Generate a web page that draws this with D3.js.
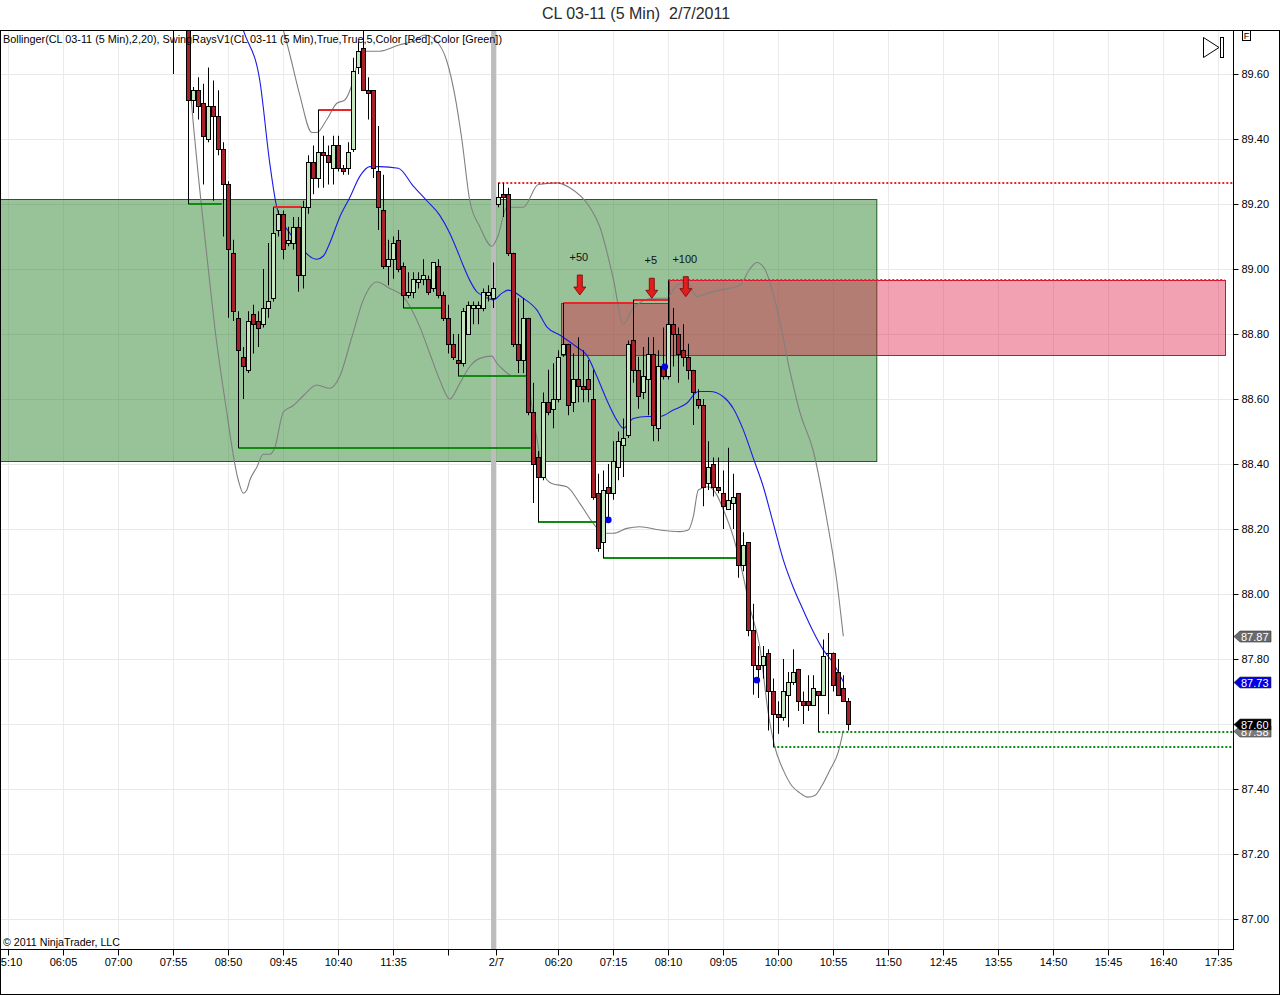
<!DOCTYPE html>
<html>
<head>
<meta charset="utf-8">
<script src="https://cdn.jsdelivr.net/npm/d3@7"></script>
<style>
  html, body { margin: 0; padding: 0; background: #fff; }
  svg { display: block; font-family: "Liberation Sans", Arial, sans-serif; }
</style>
</head>
<body>
<script>
// ---------------- DATA ----------------
// bar index 0 = 07:55 on the first session (5-minute bars)
const barOpen  = [89.78,89.80,89.82,89.80,89.52,89.55,89.51,89.40,89.50,89.47,89.37,89.26,89.05,88.85,88.73,88.69,88.86,88.84,88.83,88.88,
                  88.91,89.12,89.17,89.08,89.08,89.13,88.98,89.19,89.33,89.28,89.36,89.35,89.31,89.38,89.31,89.31,89.37,89.62,89.68,89.55,
                  89.55,89.30,89.18,89.01,89.03,89.09,89.01,88.92,88.93,88.96,88.97,88.97,88.94,89.01,88.92,88.85,88.77,88.72,88.71,88.80,
                  88.88,88.88,88.88,88.92,88.91,89.20,89.23,89.23,89.05,88.77,88.72,88.85,88.56,88.42,88.36,88.59,88.57,88.60,88.74,88.77,
                  88.59,88.66,88.64,88.66,88.60,88.31,88.16,88.33,88.31,88.39,88.46,88.49,88.78,88.69,88.62,88.66,88.74,88.51,88.70,88.67,
                  88.83,88.80,88.75,88.73,88.69,88.60,88.58,88.34,88.40,88.33,88.31,88.26,88.28,88.31,88.09,88.16,87.89,87.78,87.78,87.82,
                  87.70,87.63,87.62,87.69,87.73,87.77,87.67,87.67,87.66,87.70,87.69,87.82,87.82,87.76,87.71,87.67];
const barHigh  = [89.80,89.85,89.86,89.82,89.56,89.59,89.57,89.62,89.58,89.55,89.39,89.27,89.09,88.87,88.76,88.87,88.89,88.87,89.00,89.08,
                  89.19,89.18,89.18,89.13,89.16,89.16,89.21,89.35,89.38,89.49,89.41,89.38,89.41,89.41,89.32,89.39,89.65,89.70,89.75,89.59,
                  89.55,89.44,89.29,89.09,89.10,89.12,89.02,88.99,88.99,88.99,89.03,88.98,89.02,89.03,88.93,88.89,88.80,88.80,88.88,88.90,
                  88.90,88.90,88.94,88.95,89.02,89.265,89.265,89.25,89.05,88.91,88.91,88.85,88.65,88.44,88.62,88.69,88.71,88.75,88.895,88.77,
                  88.74,88.79,88.75,88.72,88.69,88.37,88.38,88.40,88.47,88.50,88.54,88.78,88.905,88.73,88.76,88.79,88.79,88.75,88.82,88.965,
                  88.88,88.82,88.83,88.77,88.69,88.63,88.60,88.47,88.42,88.42,88.38,88.45,88.37,88.31,88.19,88.16,87.97,87.84,87.84,87.83,
                  87.74,87.67,87.80,87.76,87.83,87.77,87.70,87.75,87.75,87.70,87.86,87.88,87.82,87.80,87.75,87.68];
const barLow   = [89.60,89.76,89.77,89.20,89.48,89.46,89.26,89.39,89.21,89.35,89.10,88.85,88.84,88.45,88.60,88.68,88.74,88.76,88.82,88.85,
                  88.90,89.10,89.03,89.07,89.06,88.93,88.94,89.17,89.23,89.25,89.25,89.26,89.26,89.30,89.29,89.29,89.36,89.60,89.55,89.46,
                  89.28,89.12,89.00,88.95,88.97,88.99,88.88,88.91,88.91,88.94,88.95,88.92,88.93,88.91,88.84,88.74,88.72,88.67,88.70,88.80,
                  88.83,88.83,88.87,88.90,88.88,89.19,89.16,89.04,88.76,88.68,88.68,88.55,88.28,88.22,88.35,88.55,88.51,88.59,88.73,88.55,
                  88.56,88.59,88.59,88.59,88.29,88.13,88.11,88.23,88.29,88.35,88.36,88.48,88.65,88.57,88.60,88.55,88.47,88.47,88.66,88.66,
                  88.70,88.65,88.70,88.66,88.52,88.57,88.27,88.32,88.30,88.31,88.20,88.26,88.20,88.05,88.07,87.87,87.69,87.68,87.74,87.58,
                  87.53,87.57,87.61,87.59,87.72,87.64,87.60,87.64,87.66,87.575,87.69,87.63,87.70,87.69,87.67,87.58];
const barClose = [89.76,89.82,89.80,89.52,89.55,89.50,89.41,89.50,89.47,89.37,89.26,89.06,88.87,88.75,88.70,88.84,88.83,88.82,88.88,88.90,
                  89.11,89.17,89.06,89.09,89.13,88.98,89.19,89.33,89.28,89.36,89.35,89.33,89.38,89.31,89.30,89.36,89.61,89.67,89.55,89.54,
                  89.31,89.19,89.01,89.03,89.08,89.00,88.92,88.93,88.97,88.97,88.98,88.93,89.02,88.92,88.85,88.77,88.73,88.71,88.87,88.89,
                  88.89,88.89,88.93,88.93,88.94,89.22,89.22,89.05,88.77,88.72,88.85,88.56,88.40,88.36,88.59,88.56,88.60,88.73,88.77,88.58,
                  88.66,88.64,88.63,88.63,88.30,88.14,88.32,88.31,88.41,88.47,88.48,88.77,88.69,88.61,88.67,88.74,88.52,88.70,88.67,88.83,
                  88.80,88.74,88.73,88.69,88.62,88.58,88.33,88.39,88.33,88.32,88.27,88.29,88.30,88.09,88.15,87.89,87.78,87.77,87.81,87.70,
                  87.63,87.62,87.70,87.73,87.76,87.67,87.66,87.66,87.71,87.69,87.81,87.82,87.72,87.69,87.67,87.60];

// Bollinger (2, 20) lines: [bar index, price]
const bollUpper = [[20.9,89.78],[22,89.735],[23.3,89.66],[25.3,89.535],[27.7,89.42],[28.7,89.42],[30.7,89.46],[32.7,89.51],[34.3,89.52],
  [36,89.58],[37.3,89.66],[38.3,89.67],[41.3,89.67],[45.3,89.69],[47.9,89.70],[50.3,89.72],[52.7,89.70],[54.7,89.64],[56.3,89.535],
  [57.7,89.40],[59.3,89.21],[61.3,89.13],[63.7,89.07],[64.9,89.10],[66.7,89.19],[68,89.19],[70,89.19],[73,89.26],[76.7,89.265],
  [79.3,89.25],[83.3,89.19],[85.3,89.13],[88,88.97],[90,88.83],[92,88.88],[96,88.91],[98.7,88.91],[100.7,88.95],[102.7,88.96],
  [104.7,88.915],[106.7,88.925],[109.3,88.935],[113.3,88.95],[115.3,89.00],[116.7,89.02],[118.3,89.00],[120.3,88.905],[123.7,88.66],
  [125.3,88.56],[128,88.44],[130.7,88.23],[132.7,88.04],[134,87.87]];
const bollMiddle = [[13.3,89.77],[14,89.735],[17.3,89.58],[19.3,89.325],[20.7,89.19],[23.3,89.11],[25.3,89.07],[28.7,89.03],[30,89.04],
  [31.3,89.08],[33.3,89.16],[35.3,89.22],[37.3,89.285],[39.3,89.315],[41.3,89.315],[45,89.31],[48,89.255],[50.7,89.21],[53.3,89.165],
  [55.3,89.11],[56.7,89.06],[58,89.01],[59.3,88.965],[60.7,88.93],[62,88.917],[64,88.905],[65.7,88.925],[67,88.935],[70,88.91],
  [72.7,88.874],[74.7,88.822],[77.3,88.797],[80.7,88.76],[82.7,88.735],[84.7,88.67],[86.7,88.597],[88.7,88.535],[90,88.51],[92,88.54],
  [94.7,88.546],[97.3,88.546],[100,88.566],[102.7,88.587],[105,88.623],[107.3,88.623],[110,88.607],[112,88.571],[114,88.505],
  [116,88.418],[118,88.33],[120,88.217],[122,88.105],[124,88.02],[126,87.95],[128,87.884],[130,87.828],[132,87.787],[134,87.73]];
const bollLower = [[2.7,89.705],[3.7,89.50],[4.7,89.335],[7,89.00],[8.3,88.82],[10.3,88.60],[13,88.35],[14,88.31],[14.7,88.32],
  [15.3,88.35],[16.7,88.39],[18,88.43],[19.3,88.43],[20.3,88.45],[22,88.56],[24,88.58],[26,88.61],[28.7,88.643],[31.3,88.633],
  [33.3,88.67],[35.7,88.79],[38,88.905],[40.7,88.96],[43.3,88.94],[46,88.915],[49.3,88.822],[51.3,88.74],[53.3,88.658],[55.3,88.60],
  [57.3,88.648],[59.3,88.70],[61.3,88.725],[63.7,88.732],[64.7,88.71],[66,88.69],[68,88.67],[70.7,88.67],[72,88.545],[73,88.453],
  [74,88.371],[75.7,88.34],[78.7,88.33],[81.3,88.279],[84,88.217],[86,88.187],[88,88.187],[90.7,88.202],[93.3,88.207],[97.3,88.197],
  [101.3,88.192],[103,88.197],[104,88.238],[105,88.32],[107,88.33],[108.7,88.305],[110,88.26],[112,88.176],[113.7,88.074],
  [115.3,87.96],[117.3,87.838],[119,87.633],[120.3,87.53],[122,87.458],[123.7,87.41],[125.3,87.388],[126.9,87.375],[128.3,87.38],
  [129.7,87.41],[131.3,87.458],[133,87.514],[134,87.58]];

// SwingRays: [start index, end index, price]
const swingHighRays = [[20,25.7,89.19],[29,35.7,89.49],[78,92,88.895],[92,99,88.905]];
const swingHighActive = [[65,211.94,89.265],[99,210.3,88.965]];
const swingLowRays = [[3,9.7,89.20],[13,71.5,88.45],[46,53.7,88.88],[57,70.7,88.67],[73,84.8,88.22],[86,113,88.11]];
const swingLowActive = [[120,211.94,87.53],[129,211.94,87.575]];

// zones: [from index, to index, low price, high price]
const greenZone = [-40, 140.7, 88.41, 89.215];
const redZones = [[77.5, 99.2, 88.735, 88.895],[99.2, 210.3, 88.735, 88.965]];

// arrows: [index, tip price, label]
const arrows = [[81.3, 88.92, "+50"],[95.7, 88.91, "+5"],[102.5, 88.915, "+100"]];
// blue dots: [index, price]
const dots = [[87, 88.228],[98.3, 88.699],[116.7, 87.735]];

// axis
const yTicks = [87.00,87.20,87.40,87.60,87.80,88.00,88.20,88.40,88.60,88.80,89.00,89.20,89.40,89.60];
const xTickIdx = [-33,-22,-11,0,11,22,33,44,55,64.5,77,88,99,110,121,132,143,154,165,176,187,198,209];
const xTickLbl = ["05:10","06:05","07:00","07:55","08:50","09:45","10:40","11:35","","2/7","06:20","07:15","08:10","09:05",
                  "10:00","10:55","11:50","12:45","13:55","14:50","15:45","16:40","17:35"];
const sessionBreak = 64.05;

// right-axis price markers: [price, colour]
const markers = [[87.87,"#6a6a6a"],[87.73,"#0000e6"],[87.58,"#7a7a7a"],[87.60,"#000000"]];

// ---------------- DRAW ----------------
const W = 1280, H = 995;
const plotL = 0, plotR = 1233, plotT = 31, plotB = 949;

const svg = d3.select("body").append("svg").attr("width", W).attr("height", H);
svg.append("rect").attr("width", W).attr("height", H).attr("fill", "#fff");

const x = d3.scaleLinear().domain([-34.66, 211.94]).range([plotL, plotR]);
const y = d3.scaleLinear().domain([87.00, 89.60]).range([919, 74]);

// title
svg.append("text").attr("x", 636).attr("y", 19).attr("text-anchor", "middle")
  .attr("font-size", 16).attr("fill", "#2a2a2a").text("CL 03-11 (5 Min)\u00A0 2/7/2011");

svg.append("defs").append("clipPath").attr("id", "plotclip")
  .append("rect").attr("x", plotL).attr("y", plotT).attr("width", plotR - plotL).attr("height", plotB - plotT);

const g = svg.append("g").attr("clip-path", "url(#plotclip)");

// grid
g.selectAll("line.vg").data(xTickIdx).join("line")
  .attr("x1", d => Math.round(x(d)) + 0.5).attr("x2", d => Math.round(x(d)) + 0.5)
  .attr("y1", plotT).attr("y2", plotB).attr("stroke", "#ebebeb").attr("stroke-width", 1);
g.selectAll("line.hg").data(yTicks).join("line")
  .attr("x1", plotL).attr("x2", plotR)
  .attr("y1", d => Math.round(y(d)) + 0.5).attr("y2", d => Math.round(y(d)) + 0.5)
  .attr("stroke", "#e8e8e8").attr("stroke-width", 1);

// green zone
g.append("rect")
  .attr("x", x(greenZone[0])).attr("y", Math.round(y(greenZone[3])) + 0.5)
  .attr("width", x(greenZone[1]) - x(greenZone[0]))
  .attr("height", Math.round(y(greenZone[2])) - Math.round(y(greenZone[3])))
  .attr("fill", "rgb(40,130,40)").attr("fill-opacity", 0.48)
  .attr("stroke", "#1f5f1f").attr("stroke-width", 1);

// red zones
g.selectAll("rect.rz").data(redZones).join("rect")
  .attr("x", d => Math.round(x(d[0])) + 0.5).attr("y", d => Math.round(y(d[3])) + 0.5)
  .attr("width", d => Math.round(x(d[1])) - Math.round(x(d[0])))
  .attr("height", d => Math.round(y(d[2])) - Math.round(y(d[3])))
  .attr("fill", "crimson").attr("fill-opacity", 0.4)
  .attr("stroke", "#d0103a").attr("stroke-width", 1);

// session break
g.append("rect").attr("x", x(sessionBreak) - 2.5).attr("y", plotT).attr("width", 5).attr("height", plotB - plotT)
  .attr("fill", "#bdbdbd");

// bollinger lines
const line = d3.line().x(d => x(d[0])).y(d => y(d[1])).curve(d3.curveMonotoneX);
g.append("path").attr("d", line(bollUpper)).attr("fill", "none").attr("stroke", "#808080").attr("stroke-width", 1.1);
g.append("path").attr("d", line(bollLower)).attr("fill", "none").attr("stroke", "#808080").attr("stroke-width", 1.1);
g.append("path").attr("d", line(bollMiddle)).attr("fill", "none").attr("stroke", "#1a1ae6").attr("stroke-width", 1.1);

// swing rays
function rays(data, color, dotted) {
  g.selectAll(null).data(data).join("line")
    .attr("x1", d => x(d[0])).attr("x2", d => x(d[1]))
    .attr("y1", d => Math.round(y(d[2]))).attr("y2", d => Math.round(y(d[2])))
    .attr("stroke", color).attr("stroke-width", 2)
    .attr("stroke-dasharray", dotted ? "2,2" : null);
}
rays(swingLowRays, "#128a12", false);
rays(swingHighRays, "#e8262a", false);
rays(swingLowActive, "#128a12", true);
rays(swingHighActive, "#e8262a", true);

// candles
const idx = d3.range(barOpen.length);
const cx = i => Math.round(x(i));
const cg = g.append("g");
cg.selectAll("line.wick").data(idx).join("line")
  .attr("x1", i => cx(i) + 0.5).attr("x2", i => cx(i) + 0.5)
  .attr("y1", i => y(barHigh[i])).attr("y2", i => y(barLow[i]))
  .attr("stroke", "#000").attr("stroke-width", 1);
cg.selectAll("rect.body").data(idx.filter(i => barOpen[i] !== barClose[i])).join("rect")
  .attr("x", i => cx(i) - 1.5)
  .attr("y", i => Math.round(y(Math.max(barOpen[i], barClose[i]))) + 0.5)
  .attr("width", 4)
  .attr("height", i => Math.max(1, Math.round(y(Math.min(barOpen[i], barClose[i]))) - Math.round(y(Math.max(barOpen[i], barClose[i])))))
  .attr("fill", i => barClose[i] > barOpen[i] ? "#c6e6c0" : "#a8202a")
  .attr("stroke", "#000").attr("stroke-width", 1);
cg.selectAll("line.doji").data(idx.filter(i => barOpen[i] === barClose[i])).join("line")
  .attr("x1", i => cx(i) - 2).attr("x2", i => cx(i) + 3)
  .attr("y1", i => Math.round(y(barOpen[i])) + 0.5).attr("y2", i => Math.round(y(barOpen[i])) + 0.5)
  .attr("stroke", "#000").attr("stroke-width", 1);

// dots
g.selectAll("circle.dot").data(dots).join("circle")
  .attr("cx", d => x(d[0])).attr("cy", d => y(d[1])).attr("r", 3.3).attr("fill", "#0000e0");

// arrows
const ag = g.selectAll("g.arrow").data(arrows).join("g");
ag.append("path").attr("d", d => {
  const xa = x(d[0]), t = y(d[1]), top = t - 20, hb = t - 8;
  return `M${xa - 2.5},${top}L${xa + 2.5},${top}L${xa + 2.5},${hb}L${xa + 6},${hb}L${xa},${t}L${xa - 6},${hb}L${xa - 2.5},${hb}Z`;
}).attr("fill", "#e11d1d").attr("stroke", "#7a0000").attr("stroke-width", 0.8);
ag.append("text").attr("x", d => x(d[0]) - 1).attr("y", d => y(d[1]) - 34)
  .attr("text-anchor", "middle").attr("font-size", 11).attr("fill", "#111").text(d => d[2]);

// legend & copyright
svg.append("text").attr("x", 3).attr("y", 43).attr("font-size", 11).attr("fill", "#000")
  .attr("textLength", 499).attr("lengthAdjust", "spacingAndGlyphs")
  .text("Bollinger(CL 03-11 (5 Min),2,20), SwingRaysV1(CL 03-11 (5 Min),True,True,5,Color [Red],Color [Green])");
svg.append("text").attr("x", 3).attr("y", 946).attr("font-size", 11).attr("fill", "#000")
  .attr("textLength", 117).attr("lengthAdjust", "spacingAndGlyphs")
  .text("\u00A9 2011 NinjaTrader, LLC");

// axes
const yAxis = d3.axisRight(y).tickValues(yTicks).tickFormat(d3.format(".2f")).tickSize(5).tickPadding(3);
const ya = svg.append("g").attr("transform", `translate(${plotR + 0.5},0)`).call(yAxis);
ya.select(".domain").remove();
ya.selectAll("text").attr("font-size", 11).attr("font-family", "Liberation Sans, Arial, sans-serif").attr("fill", "#000");
ya.selectAll("line").attr("stroke", "#000");

const xAxis = d3.axisBottom(x).tickValues(xTickIdx).tickFormat((d, i) => xTickLbl[i]).tickSize(6).tickPadding(3);
const xa = svg.append("g").attr("transform", `translate(0,${plotB + 0.5})`).call(xAxis);
xa.select(".domain").remove();
xa.selectAll(".tick").attr("transform", d => `translate(${Math.round(x(d)) + 0.5},0)`);
xa.selectAll("text").attr("font-size", 11).attr("font-family", "Liberation Sans, Arial, sans-serif").attr("fill", "#000");
xa.selectAll("line").attr("stroke", "#000");

// frame lines
svg.append("line").attr("x1", plotR + 0.5).attr("x2", plotR + 0.5).attr("y1", plotT).attr("y2", plotB + 1).attr("stroke", "#000");
svg.append("line").attr("x1", 0).attr("x2", plotR + 1).attr("y1", plotB + 0.5).attr("y2", plotB + 0.5).attr("stroke", "#000");
svg.append("rect").attr("x", 0.5).attr("y", plotT - 0.5).attr("width", W - 1).attr("height", H - plotT).attr("fill", "none").attr("stroke", "#000");

// price markers
const mg = svg.selectAll("g.mk").data(markers).join("g");
mg.append("path").attr("d", d => {
  const yc = Math.round(y(d[0])) + 0.5;
  return `M1234,${yc}L1240,${yc - 5.5}L1271,${yc - 5.5}L1271,${yc + 5.5}L1240,${yc + 5.5}Z`;
}).attr("fill", d => d[1]).attr("stroke", "#333").attr("stroke-width", 0.6);
mg.append("text").attr("x", 1241).attr("y", d => Math.round(y(d[0])) + 4.5)
  .attr("font-size", 11).attr("fill", "#fff").text(d => d3.format(".2f")(d[0]));

// "F" box and play-to-end icon
svg.append("rect").attr("x", 1242.5).attr("y", 30.5).attr("width", 8).attr("height", 10).attr("fill", "#fff").attr("stroke", "#000");
svg.append("text").attr("x", 1246.5).attr("y", 39).attr("text-anchor", "middle").attr("font-size", 9).attr("fill", "#000").text("F");
svg.append("path").attr("d", "M1203.5,37.5L1203.5,57.5L1219,47.5Z").attr("fill", "#fff").attr("stroke", "#000");
svg.append("rect").attr("x", 1220.5).attr("y", 37.5).attr("width", 3).attr("height", 20).attr("fill", "#fff").attr("stroke", "#000");
</script>
</body>
</html>
